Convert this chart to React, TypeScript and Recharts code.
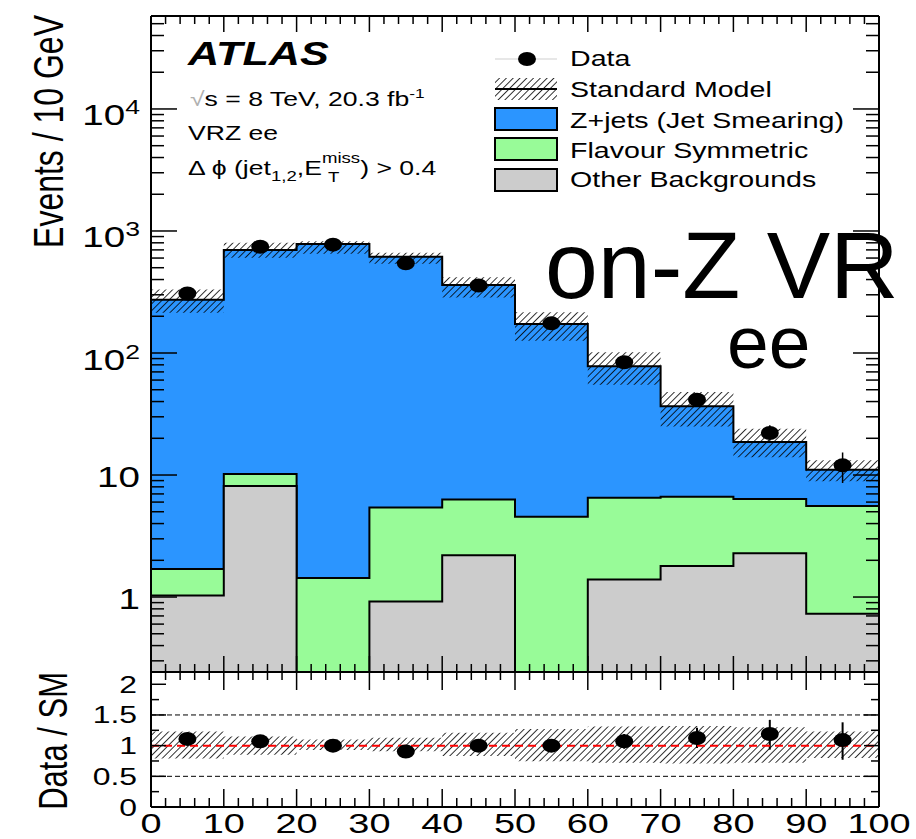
import React from 'react';
import {
    ComposedChart,
    Area,
    Scatter,
    ErrorBar,
    XAxis,
    YAxis,
    ReferenceLine,
} from 'recharts';

// Binning: 10 GeV bins from 0 to 100
const BIN_EDGES = [0, 10, 20, 30, 40, 50, 60, 70, 80, 90, 100];
const BIN_CENTRES = [5, 15, 25, 35, 45, 55, 65, 75, 85, 95];

// Background components (events per bin)
const ZJETS = [272, 689, 781, 610, 355, 168, 71.5, 29.9, 12.3, 5.5];
const FLAV_SYM = [0.67, 2.09, 1.43, 4.51, 4.11, 4.55, 5.11, 4.83, 4.07, 4.83];
const OTHER = [1.03, 8.11, 0, 0.92, 2.2, 0, 1.39, 1.8, 2.28, 0.73];

// SM uncertainty band
const SM_LOW = [214, 604, 652, 540, 285, 126, 55, 25, 14, 8.9];
const SM_HIGH = [331, 800, 822, 664, 417, 216, 101.6, 47.8, 24, 13.2];

// Data and its errors [minus, plus]
const DATA = [307, 743, 773, 543, 357, 175, 84, 41.4, 22.1, 12.0];
const DATA_ERR = [[17, 18], [27, 28], [28, 28], [23, 24], [19, 19], [13, 14], [7, 7], [4, 4.5], [3, 3.5], [3.4, 3.3]];

// Ratio panel
const RATIO = [1.11, 1.07, 1.0, 0.905, 1.0, 1.0, 1.07, 1.125, 1.19, 1.09];
const RATIO_ERR = [[0.07, 0.07], [0.04, 0.04], [0.04, 0.04], [0.05, 0.05], [0.06, 0.06], [0.08, 0.08], [0.12, 0.12], [0.165, 0.165], [0.255, 0.23], [0.32, 0.29]];
const RATIO_LOW = [0.79, 0.85, 0.93, 0.91, 0.83, 0.745, 0.72, 0.71, 0.72, 0.8];
const RATIO_HIGH = [1.23, 1.15, 1.1, 1.13, 1.21, 1.27, 1.31, 1.32, 1.3, 1.23];

const X_LABELS = ['0', '10', '20', '30', '40', '50', '60', '70', '80', '90', '100'];
const RATIO_LABELS = ['0', '0.5', '1', '1.5', '2'];

const Y_MIN = 0.243;
const Y_MAX = 57800;
const FLOOR = 0.01; // empty bins end up below the frame

const FONT = '"Liberation Sans", Arial, Helvetica, sans-serif';
const SX = 1.33; // the original figure is stretched sideways

const COL_Z = '#2b95ff';
const COL_FS = '#98fb98';
const COL_OTHER = '#cccccc';

const lastBin = (k: number) => Math.min(k, BIN_CENTRES.length - 1);

const histData = BIN_EDGES.map((x, k) => {
    const i = lastBin(k);
    const fs = OTHER[i] + FLAV_SYM[i];
    return {
        x,
        total: fs + ZJETS[i],
        fs,
        other: OTHER[i] > 0 ? OTHER[i] : FLOOR,
        band: [SM_LOW[i], SM_HIGH[i]],
        ratioBand: [RATIO_LOW[i], RATIO_HIGH[i]],
    };
});

const dataPoints = BIN_CENTRES.map((x, i) => ({ x, y: DATA[i], err: DATA_ERR[i] }));
const ratioPoints = BIN_CENTRES.map((x, i) => ({ x, r: RATIO[i], err: RATIO_ERR[i] }));

const LOG_TICKS: number[] = [];
for (let d = -1; d <= 4; d++) {
    for (let m = 1; m <= 9; m++) {
        const v = m * Math.pow(10, d);
        if (v >= Y_MIN && v <= Y_MAX) LOG_TICKS.push(v);
    }
}
const X_TICKS = Array.from({ length: 51 }, (_, i) => i * 2);
const R_TICKS = Array.from({ length: 9 }, (_, i) => i * 0.25);

const stretch = (x: number, y: number) => `translate(${x} ${y}) scale(${SX} 1)`;

// inward ticks along x, labels only on the very bottom axis
function xTick(dir: number, majorLen: number, minorLen: number, withLabel: boolean) {
    return (p: any) => {
        const v = Number(p.payload.value);
        const major = Math.abs(v % 10) < 1e-9;
        const len = major ? majorLen : minorLen;
        return (
            <g>
                <line x1={p.x} x2={p.x} y1={p.y} y2={p.y + dir * len} stroke="#000" strokeWidth={1.5} />
                {withLabel && major && (
                    <text transform={stretch(p.x, p.y + 26)} textAnchor="middle" fontFamily={FONT} fontSize={28.5} fill="#000">
                        {X_LABELS[v / 10]}
                    </text>
                )}
            </g>
        );
    };
}

function logTick(side: 'left' | 'right') {
    return (p: any) => {
        const v = Number(p.payload.value);
        const lg = Math.log10(v);
        const e = Math.round(lg);
        const major = Math.abs(lg - e) < 1e-6;
        const len = major ? 26 : 13;
        const dir = side === 'left' ? 1 : -1;
        let label = null;
        if (side === 'left' && major) {
            label = e <= 1 ? (
                <text transform={stretch(p.x - 11, p.y + 12)} textAnchor="end" fontFamily={FONT} fontSize={29} fill="#000">
                    {e === 0 ? '1' : '10'}
                </text>
            ) : (
                <text transform={stretch(p.x - 11, p.y + 16.5)} textAnchor="end" fontFamily={FONT} fontSize={29} fill="#000">
                    10<tspan dy={-11} fontSize={20}>{e}</tspan>
                </text>
            );
        }
        return (
            <g>
                <line x1={p.x} x2={p.x + dir * len} y1={p.y} y2={p.y} stroke="#000" strokeWidth={1.5} />
                {label}
            </g>
        );
    };
}

function ratioTick(side: 'left' | 'right') {
    return (p: any) => {
        const v = Number(p.payload.value);
        const major = Math.abs(v * 2 - Math.round(v * 2)) < 1e-9;
        const len = major ? 15 : 8;
        const dir = side === 'left' ? 1 : -1;
        return (
            <g>
                <line x1={p.x} x2={p.x + dir * len} y1={p.y} y2={p.y} stroke="#000" strokeWidth={1.5} />
                {side === 'left' && major && (
                    <text transform={stretch(p.x - 14, p.y + 8.5)} textAnchor="end" fontFamily={FONT} fontSize={24} fill="#000">
                        {RATIO_LABELS[Math.round(v * 2)]}
                    </text>
                )}
            </g>
        );
    };
}

const frame = { stroke: '#000', strokeWidth: 2 };
const noTick = { tickLine: false, tickSize: 0, tickMargin: 0, interval: 0 as const };

function MainPanel() {
    return (
        <ComposedChart width={916} height={680} margin={{ top: 0, right: 0, bottom: 0, left: 0 }}>
            <XAxis xAxisId="main" dataKey="x" type="number" domain={[0, 100]} allowDataOverflow
                ticks={X_TICKS} orientation="bottom" height={8} axisLine={frame} tick={xTick(-1, 16, 8, false)} {...noTick} />
            <XAxis xAxisId="top" dataKey="x" type="number" domain={[0, 100]} allowDataOverflow
                ticks={X_TICKS} orientation="top" height={16} axisLine={frame} tick={xTick(1, 16, 8, false)} {...noTick} />
            <YAxis yAxisId="main" scale="log" type="number" domain={[Y_MIN, Y_MAX]} allowDataOverflow
                ticks={LOG_TICKS} width={151} axisLine={frame} tick={logTick('left')} {...noTick} />
            <YAxis yAxisId="right" orientation="right" scale="log" type="number" domain={[Y_MIN, Y_MAX]} allowDataOverflow
                ticks={LOG_TICKS} width={37} axisLine={frame} tick={logTick('right')} {...noTick} />

            <Area xAxisId="main" yAxisId="main" data={histData} dataKey="total" type="stepAfter" baseValue={Y_MIN}
                fill={COL_Z} fillOpacity={1} stroke="#000" strokeWidth={2} isAnimationActive={false} />
            <Area xAxisId="main" yAxisId="main" data={histData} dataKey="fs" type="stepAfter" baseValue={Y_MIN}
                fill={COL_FS} fillOpacity={1} stroke="#000" strokeWidth={2} isAnimationActive={false} />
            <Area xAxisId="main" yAxisId="main" data={histData} dataKey="other" type="stepAfter" baseValue={Y_MIN}
                fill={COL_OTHER} fillOpacity={1} stroke="#000" strokeWidth={2} isAnimationActive={false} />
            <Area xAxisId="main" yAxisId="main" data={histData} dataKey="band" type="stepAfter"
                fill="url(#hatch)" fillOpacity={1} stroke="none" isAnimationActive={false} />
            <Scatter xAxisId="main" yAxisId="main" data={dataPoints} dataKey="y" isAnimationActive={false}
                shape={(p: any) => <ellipse cx={p.cx} cy={p.cy} rx={9} ry={7} fill="#000" />}>
                <ErrorBar dataKey="err" direction="y" width={0} stroke="#000" strokeWidth={1.5} isAnimationActive={false} />
            </Scatter>
        </ComposedChart>
    );
}

function RatioPanel() {
    return (
        <ComposedChart width={916} height={177} margin={{ top: 0, right: 0, bottom: 0, left: 0 }}>
            <XAxis xAxisId="main" dataKey="x" type="number" domain={[0, 100]} allowDataOverflow
                ticks={X_TICKS} orientation="bottom" height={32} axisLine={frame} tick={xTick(-1, 18, 9, true)} {...noTick} />
            <XAxis xAxisId="top" dataKey="x" type="number" domain={[0, 100]} allowDataOverflow
                ticks={X_TICKS} orientation="top" height={10} axisLine={frame} tick={xTick(1, 18, 8, false)} {...noTick} />
            <YAxis yAxisId="main" type="number" domain={[0, 2.2]} allowDataOverflow
                ticks={R_TICKS} width={151} axisLine={frame} tick={ratioTick('left')} {...noTick} />
            <YAxis yAxisId="right" orientation="right" type="number" domain={[0, 2.2]} allowDataOverflow
                ticks={R_TICKS} width={37} axisLine={frame} tick={ratioTick('right')} {...noTick} />

            <ReferenceLine xAxisId="main" yAxisId="main" y={1.5} stroke="#000" strokeWidth={1} strokeDasharray="5 3" />
            <ReferenceLine xAxisId="main" yAxisId="main" y={0.5} stroke="#000" strokeWidth={1} strokeDasharray="5 3" />
            <Area xAxisId="main" yAxisId="main" data={histData} dataKey="ratioBand" type="stepAfter"
                fill="url(#hatch)" fillOpacity={1} stroke="none" isAnimationActive={false} />
            <Scatter xAxisId="main" yAxisId="main" data={ratioPoints} dataKey="r" isAnimationActive={false}
                shape={(p: any) => <ellipse cx={p.cx} cy={p.cy} rx={9} ry={7} fill="#000" />}>
                <ErrorBar dataKey="err" direction="y" width={0} stroke="#000" strokeWidth={2} isAnimationActive={false} />
            </Scatter>
            <ReferenceLine xAxisId="main" yAxisId="main" y={1} stroke="#ff0000" strokeWidth={2} strokeDasharray="8 5" />
        </ComposedChart>
    );
}

function Overlay() {
    const legendText = (y: number, s: string) => (
        <text transform={stretch(570, y)} fontSize={21.5}>{s}</text>
    );
    return (
        <svg width={916} height={839} style={{ position: 'absolute', left: 0, top: 0, pointerEvents: 'none' }}
            fontFamily={FONT} fill="#000">
            {/* axis titles */}
            <text transform={`${stretch(63, 15)} rotate(-90)`} textAnchor="end" fontSize={32}>Events / 10 GeV</text>
            <text transform={`${stretch(67, 672)} rotate(-90)`} textAnchor="end" fontSize={31}>Data / SM</text>

            {/* ATLAS label block */}
            <text transform={stretch(188, 65)} fontSize={32.5} fontWeight="bold" fontStyle="italic">ATLAS</text>
            <g transform={stretch(190, 106)}>
                <text fontSize={20}>
                    <tspan fill="#b0b0b0">√</tspan>s = 8 TeV, 20.3 fb<tspan dy={-8} fontSize={13}>-1</tspan>
                </text>
            </g>
            <text transform={stretch(188, 140)} fontSize={20}>VRZ ee</text>
            <g transform={stretch(188, 175)}>
                <text fontSize={20}>
                    Δ ϕ (jet<tspan dy={6} fontSize={14}>1,2</tspan>
                    <tspan dy={-6}>,E</tspan>
                    <tspan dy={-12} fontSize={14}>miss</tspan>
                    <tspan dy={12}>) &gt; 0.4</tspan>
                </text>
                <text x={(328 - 188) / SX} y={7} fontSize={14}>T</text>
            </g>

            {/* legend */}
            <line x1={495} x2={557} y1={59} y2={59} stroke="#cfcfcf" strokeWidth={1} />
            <ellipse cx={527} cy={59} rx={9} ry={7} fill="#000" />
            <rect x={495} y={78} width={62} height={22} fill="url(#hatch)" />
            <line x1={495} x2={557} y1={89} y2={89} stroke="#000" strokeWidth={2} />
            <rect x={495} y={108} width={62} height={22} fill={COL_Z} stroke="#000" strokeWidth={2} />
            <rect x={495} y={138} width={62} height={22} fill={COL_FS} stroke="#000" strokeWidth={2} />
            <rect x={495} y={169} width={62} height={22} fill={COL_OTHER} stroke="#000" strokeWidth={2} />
            {legendText(66, 'Data')}
            {legendText(97, 'Standard Model')}
            {legendText(128, 'Z+jets (Jet Smearing)')}
            {legendText(158, 'Flavour Symmetric')}
            {legendText(187, 'Other Backgrounds')}

            {/* region tag, one block of two lines */}
            <text fontSize={95}>
                <tspan x={545} y={298}>on-Z VR</tspan>
                <tspan x={727} y={368} fontSize={75}>ee</tspan>
            </text>
        </svg>
    );
}

export default function App() {
    return (
        <div style={{ position: 'absolute', left: 0, top: 0, width: 916, height: 839, background: '#fff' }}>
            <svg width={0} height={0} style={{ position: 'absolute' }}>
                <defs>
                    <pattern id="hatch" patternUnits="userSpaceOnUse" width={4.8} height={4.8} patternTransform="rotate(45)">
                        <line x1={0} y1={0} x2={0} y2={4.8} stroke="#000" strokeWidth={1.6} />
                    </pattern>
                </defs>
            </svg>
            <div style={{ position: 'absolute', left: 0, top: 0 }}>
                <MainPanel />
            </div>
            <div style={{ position: 'absolute', left: 0, top: 662 }}>
                <RatioPanel />
            </div>
            <Overlay />
        </div>
    );
}
